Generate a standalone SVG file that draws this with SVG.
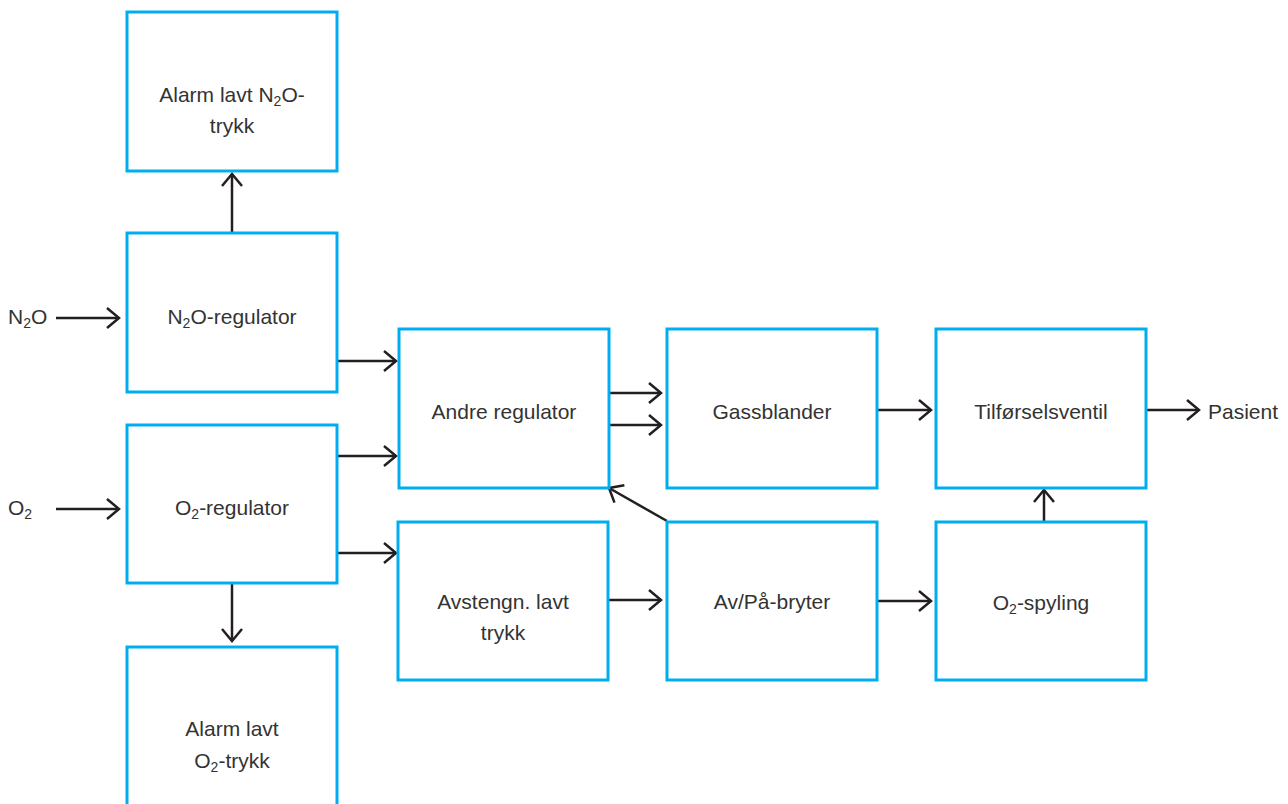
<svg xmlns="http://www.w3.org/2000/svg" width="1288" height="804" viewBox="0 0 1288 804">
<defs>
<style>
.box{fill:#fff;stroke:#00AEEF;stroke-width:3}
.lbl{font-family:"Liberation Sans",Arial,sans-serif;font-size:21px;fill:#333;text-anchor:middle}
.ext{font-family:"Liberation Sans",Arial,sans-serif;font-size:21px;fill:#333}
.sub{font-size:14px}
.con{stroke:#231f20;stroke-width:2.5;fill:none;marker-end:url(#ah)}
</style>
<marker id="ah" markerUnits="userSpaceOnUse" markerWidth="30" markerHeight="30" viewBox="-15 -15 30 30" refX="0" refY="0" orient="auto">
<path d="M-12,-10 L0,0 L-12,10" fill="none" stroke="#231f20" stroke-width="2.5"/>
</marker>
</defs>
<rect width="1288" height="804" fill="#fff"/>
<g id="connectors">
<line class="con" x1="56" y1="318" x2="119" y2="318"/>
<line class="con" x1="56" y1="509" x2="119" y2="509"/>
<line class="con" x1="232" y1="233" x2="232" y2="174"/>
<line class="con" x1="232" y1="583" x2="232" y2="641"/>
<line class="con" x1="337" y1="361" x2="396" y2="361"/>
<line class="con" x1="337" y1="456" x2="396" y2="456"/>
<line class="con" x1="337" y1="553" x2="396" y2="553"/>
<line class="con" x1="607" y1="393" x2="661" y2="393"/>
<line class="con" x1="607" y1="425" x2="661" y2="425"/>
<line class="con" x1="877" y1="410" x2="931" y2="410"/>
<line class="con" x1="1146" y1="410" x2="1199" y2="410"/>
<line class="con" x1="608" y1="600" x2="661" y2="600"/>
<line class="con" x1="877" y1="601" x2="931" y2="601"/>
<line class="con" x1="1044" y1="522" x2="1044" y2="490"/>
<line class="con" x1="667" y1="521" x2="609" y2="488"/>
</g>
<g id="label-n2o"><text class="ext" x="8" y="324">N<tspan class="sub" dy="4">2</tspan><tspan dy="-4">O</tspan></text></g>
<g id="label-o2"><text class="ext" x="8" y="515">O<tspan class="sub" dy="4">2</tspan></text></g>
<g id="label-pasient"><text class="ext" x="1208" y="419">Pasient</text></g>
<g id="alarm-n2o">
<rect class="box" x="127" y="12" width="210" height="159"/>
<text class="lbl" x="232" y="102">Alarm lavt N<tspan class="sub" dy="4">2</tspan><tspan dy="-4">O-</tspan></text>
<text class="lbl" x="232" y="133">trykk</text>
</g>
<g id="n2o-regulator">
<rect class="box" x="127" y="233" width="210" height="159"/>
<text class="lbl" x="232" y="324">N<tspan class="sub" dy="4">2</tspan><tspan dy="-4">O-regulator</tspan></text>
</g>
<g id="o2-regulator">
<rect class="box" x="127" y="425" width="210" height="158"/>
<text class="lbl" x="232" y="515">O<tspan class="sub" dy="4">2</tspan><tspan dy="-4">-regulator</tspan></text>
</g>
<g id="alarm-o2">
<rect class="box" x="127" y="647" width="210" height="162"/>
<text class="lbl" x="232" y="736">Alarm lavt</text>
<text class="lbl" x="232" y="768">O<tspan class="sub" dy="4">2</tspan><tspan dy="-4">-trykk</tspan></text>
</g>
<g id="andre-regulator">
<rect class="box" x="399" y="329" width="210" height="159"/>
<text class="lbl" x="504" y="419">Andre regulator</text>
</g>
<g id="gassblander">
<rect class="box" x="667" y="329" width="210" height="159"/>
<text class="lbl" x="772" y="419">Gassblander</text>
</g>
<g id="tilforselsventil">
<rect class="box" x="936" y="329" width="210" height="159"/>
<text class="lbl" x="1041" y="419">Tilførselsventil</text>
</g>
<g id="avstengn">
<rect class="box" x="398" y="522" width="210" height="158"/>
<text class="lbl" x="503" y="609">Avstengn. lavt</text>
<text class="lbl" x="503" y="640">trykk</text>
</g>
<g id="av-pa-bryter">
<rect class="box" x="667" y="522" width="210" height="158"/>
<text class="lbl" x="772" y="609">Av/På-bryter</text>
</g>
<g id="o2-spyling">
<rect class="box" x="936" y="522" width="210" height="158"/>
<text class="lbl" x="1041" y="610">O<tspan class="sub" dy="4">2</tspan><tspan dy="-4">-spyling</tspan></text>
</g>
</svg>
